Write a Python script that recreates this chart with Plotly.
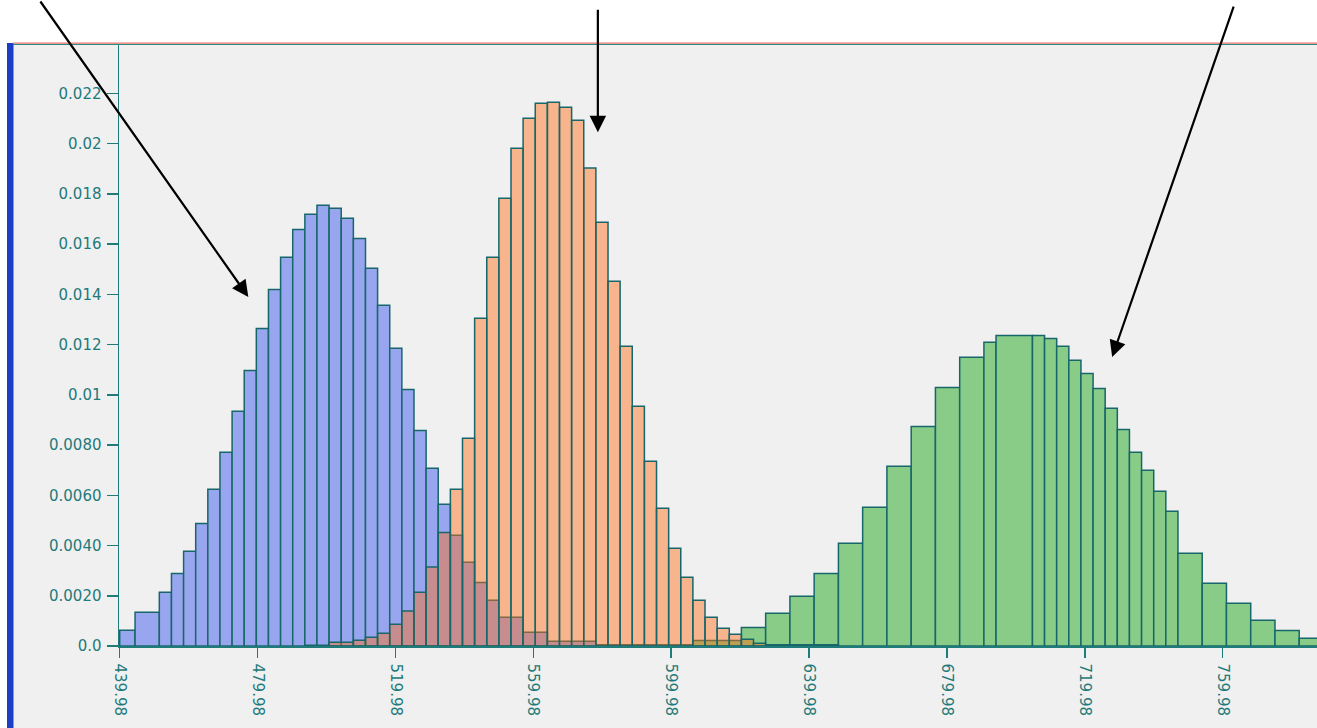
import plotly.graph_objects as go

# ---------------- data ----------------
# bin edges (x units) and densities for each distribution
blue_edges = [439.98, 444.44, 451.48, 455.00, 458.52, 462.03, 465.55, 469.07, 472.59,
              476.11, 479.62, 483.14, 486.66, 490.18, 493.70, 497.21, 500.73, 504.25,
              507.77, 511.29, 514.80, 518.32, 521.84, 525.36, 528.88, 532.39, 535.91,
              539.43, 542.95, 546.47, 549.98, 557.02, 564.06, 578.13, 606.27]
blue_vals = [0.00063, 0.00134, 0.00214, 0.00289, 0.00377, 0.00488, 0.00624, 0.00771,
             0.00934, 0.01097, 0.01264, 0.01419, 0.01547, 0.01658, 0.01718, 0.01754,
             0.01742, 0.01702, 0.01622, 0.01503, 0.01356, 0.01185, 0.01021, 0.00858,
             0.00707, 0.00564, 0.00441, 0.00333, 0.00253, 0.00182, 0.00114, 0.00055,
             0.00019, 0.00005]

orange_edges = [493.70, 500.73, 507.77, 511.29, 514.80, 518.32, 521.84, 525.36, 528.88,
                532.39, 535.91, 539.43, 542.95, 546.47, 549.98, 553.50, 557.02, 560.54,
                564.06, 567.57, 571.09, 574.61, 578.13, 581.65, 585.16, 588.68, 592.20,
                595.72, 599.24, 602.75, 606.27, 609.79, 613.31, 616.83, 620.34, 623.86,
                627.38, 648.49]
orange_vals = [0.00003, 0.00015, 0.00023, 0.00035, 0.00051, 0.00087, 0.00139, 0.00214,
               0.00314, 0.00452, 0.00624, 0.00827, 0.01304, 0.01547, 0.01782, 0.01981,
               0.02100, 0.02160, 0.02164, 0.02144, 0.02093, 0.01902, 0.01687, 0.01452,
               0.01193, 0.00954, 0.00735, 0.00548, 0.00389, 0.00274, 0.00182, 0.00114,
               0.00071, 0.00047, 0.00027, 0.00011, 0.00005]

green_edges = [606.27, 620.34, 627.38, 634.42, 641.45, 648.49, 655.52, 662.56, 669.60,
               676.63, 683.67, 690.70, 694.22, 704.78, 708.29, 711.81, 715.33, 718.85,
               722.37, 725.88, 729.40, 732.92, 736.44, 739.96, 743.47, 746.99, 754.03,
               761.06, 768.10, 775.14, 782.17, 789.21]
green_vals = [0.00022, 0.00074, 0.00130, 0.00198, 0.00289, 0.00409, 0.00552, 0.00715,
              0.00874, 0.01029, 0.01149, 0.01209, 0.01236, 0.01236, 0.01224, 0.01193,
              0.01137, 0.01085, 0.01025, 0.00946, 0.00862, 0.00771, 0.00699, 0.00616,
              0.00536, 0.00369, 0.00250, 0.00170, 0.00102, 0.00062, 0.00031]

x_ticks = [439.98, 479.98, 519.98, 559.98, 599.98, 639.98, 679.98, 719.98, 759.98]
x_ticktext = ["439.98", "479.98", "519.98", "559.98", "599.98", "639.98", "679.98",
              "719.98", "759.98"]
y_ticks = [0.0, 0.002, 0.004, 0.006, 0.008, 0.01, 0.012, 0.014, 0.016, 0.018, 0.02, 0.022]
y_ticktext = ["0.0", "0.0020", "0.0040", "0.0060", "0.0080", "0.01", "0.012", "0.014",
              "0.016", "0.018", "0.02", "0.022"]

# ---------------- styling ----------------
W, H = 1317, 728
ML = 119                     # y axis at x=119 in the picture
MT = 44                      # top of plot at y=44
MB = H - 646                 # x axis at y=646
MR = 0
EDGE = "#17676a"
AXC = "#1f7a7a"
PANEL = "#f0f0f0"
FONT = "DejaVu Sans, Verdana, sans-serif"


def bars(edges, vals, fill, name):
    centers = [(edges[i] + edges[i + 1]) / 2 for i in range(len(vals))]
    widths = [edges[i + 1] - edges[i] for i in range(len(vals))]
    return go.Bar(x=centers, y=vals, width=widths, name=name,
                  marker=dict(color=fill, line=dict(color=EDGE, width=1.5)),
                  hoverinfo="skip", showlegend=False)


fig = go.Figure()
fig.add_trace(bars(blue_edges, blue_vals, "#98a6f0", "blue"))
fig.add_trace(bars(green_edges, green_vals, "#88cc88", "green"))
fig.add_trace(bars(orange_edges, orange_vals, "rgba(255,110,23,0.46)", "orange"))

pw = W - ML - MR
ph = H - MT - MB


def px_x(p):  # picture x pixel -> paper
    return (p - ML) / pw


def px_y(p):  # picture y pixel -> paper
    return (H - MB - p) / ph


shapes = [
    dict(type="rect", xref="paper", yref="paper", x0=px_x(-10), x1=px_x(W + 30),
         y0=px_y(43), y1=px_y(-10), fillcolor="white", line=dict(width=0), layer="below"),
    dict(type="rect", xref="paper", yref="paper", x0=px_x(-10), x1=px_x(7),
         y0=px_y(H + 30), y1=px_y(43), fillcolor="white", line=dict(width=0), layer="below"),
    dict(type="rect", xref="paper", yref="paper", x0=px_x(7), x1=px_x(13.5),
         y0=px_y(H + 30), y1=px_y(43), fillcolor="#1c3ec4", line=dict(width=0), layer="below"),
    dict(type="line", xref="paper", yref="paper", x0=px_x(13), x1=px_x(W + 30),
         y0=px_y(43.2), y1=px_y(43.2), line=dict(color="#e8766a", width=1.2)),
    dict(type="line", xref="paper", yref="paper", x0=px_x(13), x1=px_x(W + 30),
         y0=px_y(44.5), y1=px_y(44.5), line=dict(color="#2a8a86", width=1.2)),
]

arrow = dict(showarrow=True, text="", arrowhead=2, arrowsize=1.5, arrowwidth=2.2,
             arrowcolor="black", xref="x", yref="y", axref="pixel", ayref="pixel")
annotations = [
    dict(arrow, x=477.3, y=0.01389, ax=-209, ay=-306),
    dict(arrow, x=578.7, y=0.02045, ax=0, ay=-124),
    dict(arrow, x=727.9, y=0.01150, ax=122, ay=-352),
]

fig.update_layout(
    width=W, height=H,
    margin=dict(l=ML, r=MR, t=MT, b=MB, pad=0),
    paper_bgcolor=PANEL, plot_bgcolor=PANEL,
    barmode="overlay", bargap=0,
    shapes=shapes, annotations=annotations,
    font=dict(family=FONT, size=15, color=AXC),
    xaxis=dict(range=[439.78, 787.33], tickvals=x_ticks, ticktext=x_ticktext,
               tickangle=90, ticks="outside", ticklen=10, tickwidth=1.5, tickcolor=AXC,
               showline=True, linecolor=AXC, linewidth=1.5, showgrid=False,
               zeroline=False, ticklabelstandoff=3,
               tickfont=dict(family=FONT, size=15, color=AXC)),
    yaxis=dict(range=[0, 0.02396], tickvals=y_ticks, ticktext=y_ticktext,
               ticks="outside", ticklen=11, tickwidth=1.5, tickcolor=AXC,
               showline=True, linecolor=AXC, linewidth=1.5, showgrid=False,
               zeroline=False, ticklabelstandoff=2,
               tickfont=dict(family=FONT, size=15, color=AXC)),
)

fig.write_html("out.html",
               config={"displayModeBar": False, "staticPlot": True},
               post_script="document.body.style.margin='0';"
                           "document.body.style.overflow='hidden';")
